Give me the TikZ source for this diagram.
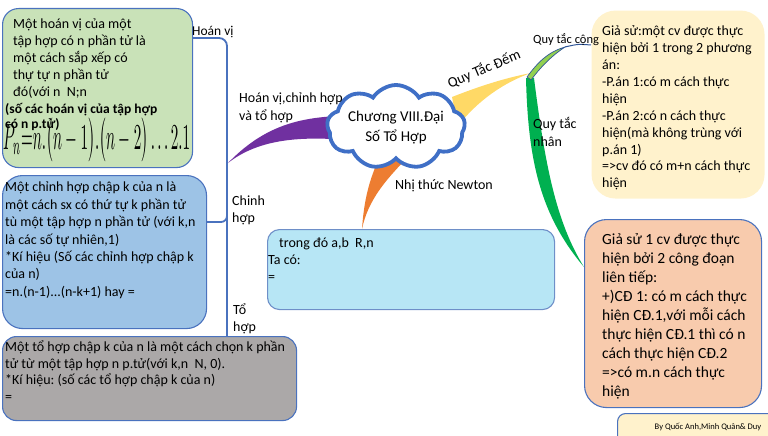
\documentclass[tikz,border=0pt]{standalone}
\usepackage{fontspec}
\usepackage{graphicx}
\setmainfont{Carlito}
\frenchspacing
\usetikzlibrary{shapes.symbols}
\definecolor{cgreen}{HTML}{C9E2B8}
\definecolor{cblue}{HTML}{9DC3E6}
\definecolor{cgray}{HTML}{ABA8A8}
\definecolor{clblue}{HTML}{B7E6F5}
\definecolor{ccream}{HTML}{FFF2CC}
\definecolor{csalmon}{HTML}{F8CBAD}
\definecolor{bord}{HTML}{4A72BE}
\definecolor{lbord}{HTML}{6E8FC8}
\definecolor{cloudb}{HTML}{3F6FC6}
\definecolor{cpur}{HTML}{7030A0}
\definecolor{corg}{HTML}{ED7D31}
\definecolor{cyel}{HTML}{FFD966}
\definecolor{clime}{HTML}{92D050}
\definecolor{cdgreen}{HTML}{00B050}
\definecolor{dblue}{HTML}{2F5597}
\begin{document}
\begin{tikzpicture}[x=1pt,y=-1pt,
  boxb/.style={draw=bord, line width=1.1pt, inner sep=0pt, anchor=north west},
  txt/.style={inner sep=0pt, anchor=north west, align=left, text=black},
  lbl/.style={inner sep=0pt, anchor=base west, text=black, font=\fontsize{14}{17}\selectfont},
  brace/.style={draw=bord, line width=1.8pt},
]
\useasboundingbox (0,0) rectangle (768,436);
\clip (0,0) rectangle (768,436);

% named end points of the branches
\coordinate (pA) at (228,163);
\coordinate (oA) at (362,229);
\coordinate (yA) at (531,73);
\coordinate (lA) at (565,47);
\coordinate (lB) at (591,45);
\coordinate (gA) at (584,267);

% branches
\fill[cpur] (pA) .. controls (262,128) and (295,118) .. (338,116) -- (332,139) .. controls (290,137) and (255,142) .. (pA) -- cycle;
\fill[corg] (oA) .. controls (364,200) and (369,182) .. (377,163) -- (405,160) .. controls (386,180) and (368,200) .. (oA) -- cycle;
\fill[cyel] (yA) .. controls (505,78) and (480,86) .. (452,97) -- (458,126) .. controls (478,100) and (505,82) .. (yA) -- cycle;
\fill[cdgreen] (526,78) .. controls (528,160) and (540,215) .. (gA) .. controls (556,222) and (545,165) .. (534,78) -- cycle;
\filldraw[fill=clime, draw=dblue, line width=0.7pt] (527,77) .. controls (538,62) and (548,52) .. (lA) .. controls (550,57) and (540,68) .. (531,80) -- cycle;
\draw[dblue, line width=1pt] (lA) .. controls (578,44) .. (lB);

% brace lines
\draw[brace, rounded corners=8pt] (192,38) -- (227,38) -- (227,336);
\draw[brace, rounded corners=6pt] (206,222) -- (227,222) -- (227,205);

% boxes
\node[boxb, rounded corners=16pt, fill=cgreen, minimum width=190pt, minimum height=159pt] (gbox) at (2,8) {};
\node[boxb, rounded corners=20pt, fill=cblue, minimum width=204pt, minimum height=153pt] (bbox) at (2,175) {};
\node[boxb, rounded corners=14pt, fill=cgray, minimum width=294pt, minimum height=84pt] (tbox) at (2,336) {};
\node[boxb, draw=lbord, rounded corners=12pt, fill=clblue, minimum width=287pt, minimum height=80pt] (nbox) at (267,229) {};
\node[boxb, draw=none, rounded corners=24pt, fill=ccream, minimum width=173pt, minimum height=188pt] (ybox) at (591,10) {};
\node[boxb, rounded corners=22pt, fill=csalmon, minimum width=177pt, minimum height=188pt] (sbox) at (584,219) {};
\node[boxb, rounded corners=8pt, fill=ccream, minimum width=170pt, minimum height=40pt] (crbox) at (617,413) {};

% cloud
\node[cloud, cloud puffs=9, cloud puff arc=115, cloud ignores aspect, minimum width=138pt, minimum height=84pt,
      draw=cloudb, line width=3.8pt, fill=white, inner sep=0pt] (cl) at (396,127) {};
\node[inner sep=0pt, align=center, font=\fontsize{15}{20}\selectfont] (clt) at (396,128) {Chương VIII.Đại\\Số Tổ Hợp};

% box texts
\node[txt, font=\fontsize{14}{17}\selectfont] (gtxt) at (13,16.5) {\strut Một hoán vị của một\\tập hợp có n phần tử là\\một cách sắp xếp có\\thự tự n phần tử\\đó(với n~ N;n};
\node[txt, font=\fontsize{13.5}{15}\bfseries\selectfont] (gbold) at (5,103) {\strut(số các hoán vị của tập hợp\\có n p.tử)};
\node[inner sep=0pt, anchor=base west] (gform) at (3,149) {\resizebox{187pt}{31pt}{$P_n{=}n.\bigl(n-1\bigr).\bigl(n-2\bigr)\ldots 2.1$}};

\node[txt, font=\fontsize{14}{17.4}\selectfont] (btxt) at (5,179.5) {\strut Một chỉnh hợp chập k của n là\\một cách sx có thứ tự k phần tử\\tù một tập hợp n phần tử (với k,n\\là các số tự nhiên,1)\\*Kí hiệu (Số các chỉnh hợp chập k\\của n)\\=n.(n-1)...(n-k+1) hay =};

\node[txt, font=\fontsize{14}{16.5}\selectfont] (ttxt) at (5,340) {\strut Một tổ hợp chập k của n là một cách chọn k phần\\tử từ một tập hợp n p.tử(với k,n~ N, 0).\\*Kí hiệu: (số các tổ hợp chập k của n)\\=};

\node[txt, font=\fontsize{14}{17}\selectfont] (ntxt) at (268,235.6) {\strut\hspace*{11pt}trong đó a,b~ R,n\\Ta có:\\=};

\node[txt, font=\fontsize{14}{16.9}\selectfont] (ytxt) at (602,23.7) {\strut Giả sử:một cv được thực\\hiện bởi 1 trong 2 phương\\án:\\-P.án 1:có m cách thực\\hiện\\-P.án 2:có n cách thực\\hiện(mà không trùng với\\p.án 1)\\=>cv đó có m+n cách thực\\hiện};

\node[txt, font=\fontsize{15.5}{19}\selectfont] (stxt) at (602,230.7) {\strut Giả sử 1 cv được thực\\hiện bởi 2 công đoạn\\liên tiếp:\\+)CĐ 1: có m cách thực\\hiện CĐ.1,với mỗi cách\\thực hiện CĐ.1 thì có n\\cách thực hiện CĐ.2\\=>có m.n cách thực\\hiện};

\node[inner sep=0pt, font=\fontsize{8.5}{10}\selectfont] (crtxt) at (708,427) {By Quốc Anh,Minh Quân\& Duy};

% branch labels
\node[lbl, font=\fontsize{13.5}{16}\selectfont] (l1) at (192,35.5) {Hoán vị};
\node[lbl] (l2) at (239,102.5) {Hoán vị,chỉnh hợp};
\node[lbl] (l3) at (239,120.5) {và tổ hợp};
\node[lbl] (l4) at (232,205.5) {Chinh};
\node[lbl] (l5) at (232,222.5) {hợp};
\node[lbl] (l6) at (233,314.5) {Tổ};
\node[lbl] (l7) at (233,331.5) {hợp};
\node[lbl] (l8) at (395,189.5) {Nhị thức Newton};
\node[inner sep=0pt, rotate=23, font=\fontsize{14.5}{17}\selectfont] (l9) at (484,69) {Quy Tắc Đếm};
\node[lbl, font=\fontsize{12.5}{15}\selectfont] (l10) at (533,44) {Quy tắc cộng};
\node[lbl] (l11) at (533,128.5) {Quy tắc};
\node[lbl] (l12) at (533,146.5) {nhân};
\end{tikzpicture}
\end{document}
